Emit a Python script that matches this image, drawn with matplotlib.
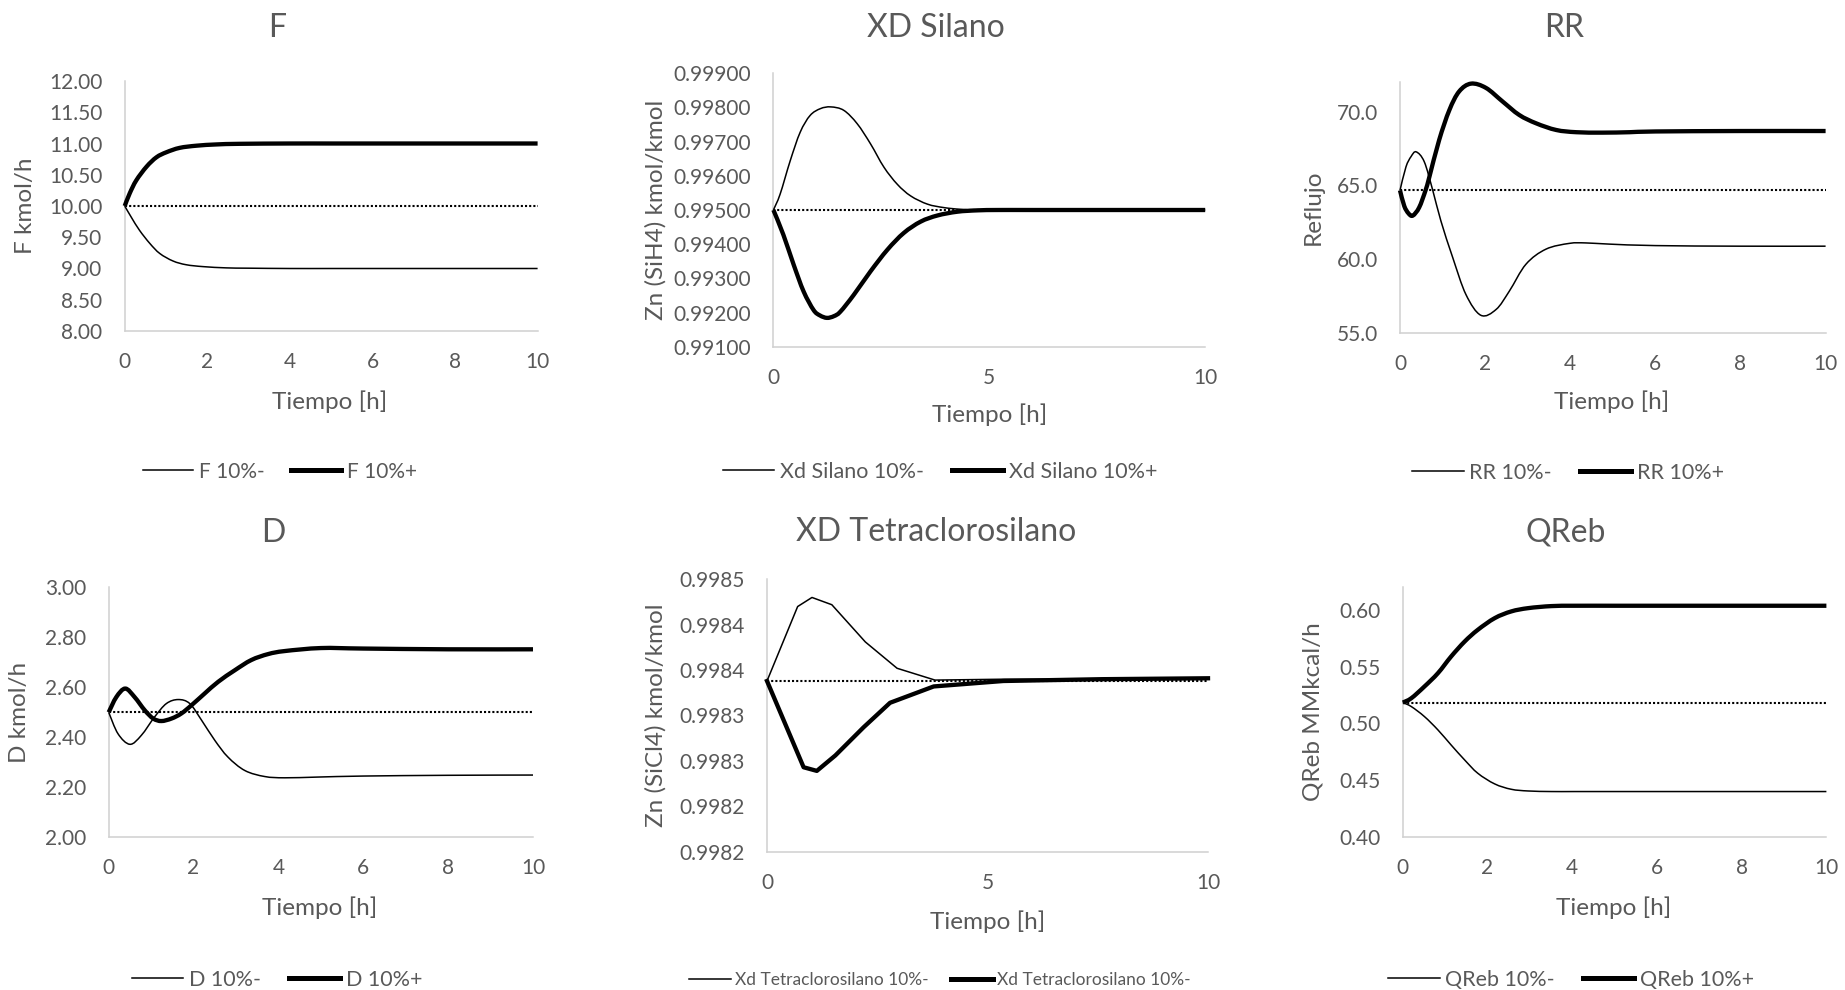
import matplotlib
matplotlib.use("Agg")
import matplotlib.pyplot as plt
from matplotlib.ticker import FixedLocator, FixedFormatter
from matplotlib.path import Path
from matplotlib.patches import PathPatch
from matplotlib.lines import Line2D

plt.rcParams['font.family'] = ['Lato', 'DejaVu Sans']

W, H = 1845, 990
TXT = '#595959'
SPINE = '#d0d0d0'

# ---------------- data ----------------
# F
f_t_minus = [0, 0.16, 0.36, 0.61, 0.85, 1.17, 1.49, 1.9, 2.46, 3.0, 4, 5, 6, 7, 8, 9, 10]
f_minus = [10.0, 9.82, 9.61, 9.40, 9.24, 9.12, 9.06, 9.03, 9.01, 9.005, 9.0, 9.0, 9.0, 9.0, 9.0, 9.0, 9.0]
f_t_plus = [0, 0.12, 0.28, 0.53, 0.77, 1.01, 1.33, 1.74, 2.22, 2.79, 4, 5, 6, 7, 8, 9, 10]
f_plus = [10.0, 10.2, 10.41, 10.63, 10.78, 10.86, 10.93, 10.965, 10.985, 10.995, 11.0, 11.0, 11.0, 11.0, 11.0, 11.0, 11.0]
f_base = [10.0, 10.0]

# XD Silano
sil_t_minus = [0, 0.155, 0.39, 0.62, 0.85, 1.09, 1.33, 1.63, 1.94, 2.25, 2.56, 2.87, 3.18, 3.57, 3.95, 4.34, 4.8, 6, 8, 10]
sil_minus = [0.99500, 0.99546, 0.99644, 0.99727, 0.99776, 0.99796, 0.99801, 0.99791, 0.99752, 0.99693,
             0.99625, 0.99575, 0.99541, 0.99517, 0.99507, 0.99502, 0.99500, 0.99500, 0.99500, 0.99500]
sil_t_plus = [0, 0.23, 0.47, 0.70, 0.93, 1.08, 1.24, 1.40, 1.55, 1.86, 2.25, 2.64, 3.02, 3.41, 3.80, 4.26, 4.73, 5.2, 6, 8, 10]
sil_plus = [0.99500, 0.99428, 0.99340, 0.99262, 0.99208, 0.99192, 0.99185, 0.99190, 0.99203, 0.99252, 0.99321,
            0.99384, 0.99433, 0.99466, 0.99484, 0.99495, 0.99499, 0.99500, 0.99500, 0.99500, 0.99500]
sil_base = [0.995, 0.995]

# RR
rr_t_minus = [0, 0.14, 0.26, 0.38, 0.57, 0.77, 0.96, 1.24, 1.55, 1.9, 2.26, 2.57, 2.96, 3.43, 3.98, 4.37, 4.92, 6, 8, 10]
rr_minus = [64.66, 66.25, 66.95, 67.27, 66.6, 64.66, 62.6, 60.1, 57.6, 56.2, 56.6, 57.84, 59.66, 60.68,
            61.07, 61.1, 61.02, 60.92, 60.88, 60.88]
rr_t_plus = [0, 0.1, 0.2, 0.30, 0.45, 0.6, 0.69, 0.92, 1.16, 1.39, 1.67, 2.02, 2.41, 2.8, 3.2, 3.67, 4.14, 4.76, 5.4, 6, 8, 10]
rr_plus = [64.66, 63.6, 63.1, 62.95, 63.5, 64.66, 65.57, 68.07, 70.1, 71.36, 71.89, 71.6, 70.68, 69.77,
           69.2, 68.75, 68.6, 68.57, 68.6, 68.65, 68.68, 68.68]
rr_base = [64.66, 64.66]

# D
d_t_minus = [0, 0.22, 0.50, 0.77, 1.08, 1.36, 1.64, 1.91, 2.19, 2.50, 2.81, 3.21, 3.68, 4.15, 4.94, 6, 8, 10]
d_minus = [2.50, 2.414, 2.372, 2.408, 2.481, 2.535, 2.551, 2.535, 2.468, 2.388, 2.321, 2.267, 2.243,
           2.238, 2.241, 2.245, 2.248, 2.249]
d_t_plus = [0, 0.18, 0.39, 0.61, 0.85, 1.05, 1.24, 1.48, 1.71, 1.95, 2.26, 2.58, 2.97, 3.36, 3.76, 4.15, 5.0, 6, 8, 10]
d_plus = [2.50, 2.561, 2.595, 2.561, 2.508, 2.475, 2.465, 2.475, 2.495, 2.528, 2.575, 2.622, 2.668,
          2.709, 2.733, 2.745, 2.757, 2.755, 2.752, 2.752]
d_base = [2.5, 2.5]

# XD Tetraclorosilano
xt_t_minus = [0, 0.695, 1.02, 1.47, 2.23, 2.95, 3.81, 5.4, 7.6, 10]
xt_minus = [0.998388, 0.998470, 0.998480, 0.998472, 0.998431, 0.998402, 0.998389, 0.998390, 0.998390, 0.998391]
xt_t_plus = [0, 0.83, 1.13, 1.55, 2.19, 2.79, 3.78, 5.36, 7.6, 10]
xt_plus = [0.998388, 0.998293, 0.998289, 0.998306, 0.998337, 0.998364, 0.998382, 0.998388, 0.998390, 0.998391]
xt_base = [0.998388, 0.998388]

# QReb
q_t = [0, 0.2, 0.51, 0.83, 1.14, 1.46, 1.77, 2.17, 2.56, 2.96, 3.51, 4.06, 5, 6, 8, 10]
q_plus = [0.5183, 0.5221, 0.5324, 0.5442, 0.5588, 0.572, 0.5823, 0.5926, 0.5985, 0.6014, 0.6032,
          0.6035, 0.6035, 0.6035, 0.6035, 0.6035]
q_minus = [0.5183, 0.5148, 0.506, 0.4942, 0.481, 0.4678, 0.4561, 0.4467, 0.442, 0.4405, 0.4400,
           0.4400, 0.4400, 0.4400, 0.4400, 0.4400]
q_base = [0.5183, 0.5183]

base_t = [0, 10]

# ticks
f_yticks = [8.0, 8.5, 9.0, 9.5, 10.0, 10.5, 11.0, 11.5, 12.0]
sil_yticks = [0.991, 0.992, 0.993, 0.994, 0.995, 0.996, 0.997, 0.998, 0.999]
rr_yticks = [55, 60, 65, 70]
d_yticks = [2.0, 2.2, 2.4, 2.6, 2.8, 3.0]
xt_yticks = [0.99820, 0.99825, 0.99830, 0.99835, 0.99840, 0.99845, 0.99850]
xt_ylabels = ['0.9982', '0.9982', '0.9983', '0.9983', '0.9984', '0.9984', '0.9985']
q_yticks = [0.40, 0.45, 0.50, 0.55, 0.60]
xticks_2 = [0, 2, 4, 6, 8, 10]
xticks_5 = [0, 5, 10]

# ---------------- drawing ----------------
fig = plt.figure(figsize=(W / 100, H / 100), dpi=100)
fig.patch.set_facecolor('white')

THIN, THICK = 1.1, 3.1


def px_axes(l, r, t, b):
    return fig.add_axes([l / W, 1 - b / H, (r - l) / W, (b - t) / H])


def smooth_line(ax, xs, ys, lw):
    """Smoothed (spreadsheet style) line: cubic Bezier segments through the points."""
    n = len(xs)
    verts = [(xs[0], ys[0])]
    codes = [Path.MOVETO]
    for i in range(n - 1):
        i0, i2 = max(i - 1, 0), min(i + 2, n - 1)
        c1 = (xs[i] + (xs[i + 1] - xs[i0]) / 6.0, ys[i] + (ys[i + 1] - ys[i0]) / 6.0)
        c2 = (xs[i + 1] - (xs[i2] - xs[i]) / 6.0, ys[i + 1] - (ys[i2] - ys[i]) / 6.0)
        verts += [c1, c2, (xs[i + 1], ys[i + 1])]
        codes += [Path.CURVE4] * 3
    patch = PathPatch(Path(verts, codes), facecolor='none', edgecolor='black', lw=lw,
                      capstyle='butt', joinstyle='round', clip_on=False, zorder=3 + lw)
    ax.add_patch(patch)


def panel(box, title, title_xy, ylab, ylab_x, xlab_xy, leg_xy, leg_fs,
          tm, vm, tp, vp, base, ylim, yticks, ylabels, xticks, names, smooth=True):
    l, r, t, b = box
    ax = px_axes(l, r, t, b)
    ax.plot(base_t, base, color='black', lw=1.5, linestyle=(0, (1, 1)), zorder=2)
    if smooth:
        smooth_line(ax, tm, vm, THIN)
        smooth_line(ax, tp, vp, THICK)
    else:
        ax.plot(tm, vm, color='black', lw=THIN, clip_on=False, zorder=3)
        ax.plot(tp, vp, color='black', lw=THICK, clip_on=False, zorder=4, solid_joinstyle='round')
    ax.set_xlim(0, 10)
    ax.set_ylim(*ylim)
    ax.yaxis.set_major_locator(FixedLocator(yticks))
    ax.yaxis.set_major_formatter(FixedFormatter(ylabels))
    ax.xaxis.set_major_locator(FixedLocator(xticks))
    ax.xaxis.set_major_formatter(FixedFormatter([str(x) for x in xticks]))
    for s in ('top', 'right'):
        ax.spines[s].set_visible(False)
    for s in ('left', 'bottom'):
        ax.spines[s].set_color(SPINE)
        ax.spines[s].set_linewidth(1.1)
    ax.tick_params(axis='both', length=0, labelsize=15, labelcolor=TXT)
    ax.tick_params(axis='y', pad=16)
    ax.tick_params(axis='x', pad=15)
    fig.text(title_xy[0] / W, 1 - title_xy[1] / H, title, ha='center', va='center',
             fontsize=23, color=TXT)
    fig.text(xlab_xy[0] / W, 1 - xlab_xy[1] / H, 'Tiempo [h]', ha='center', va='center',
             fontsize=17.5, color=TXT)
    fig.text(ylab_x / W, 1 - (t + b) / 2 / H, ylab, ha='center', va='center',
             rotation=90, fontsize=17.5, color=TXT)
    handles = [Line2D([], [], color='black', lw=THIN, label=names[0]),
               Line2D([], [], color='black', lw=THICK + 0.5, label=names[1])]
    fig.legend(handles=handles, loc='center', bbox_to_anchor=(leg_xy[0] / W, 1 - leg_xy[1] / H),
               ncol=2, frameon=False, fontsize=leg_fs, handlelength=2.4, handletextpad=0.25,
               columnspacing=1.3, labelcolor=TXT, borderpad=0, borderaxespad=0)
    return ax


fmt2 = lambda v: ['{:.2f}'.format(x) for x in v]

panel((124.7, 537.6, 81, 331), 'F', (277, 28), 'F kmol/h', 25.7, (330, 401.7), (280, 471.7), 15,
      f_t_minus, f_minus, f_t_plus, f_plus, f_base, (8, 12), f_yticks, fmt2(f_yticks), xticks_2,
      ['F 10%-', 'F 10%+'])

panel((773.4, 1205.2, 73, 347), 'XD Silano', (936, 28), 'Zn (SiH4) kmol/kmol', 655.6, (989.7, 415),
      (940, 471.7), 15.5,
      sil_t_minus, sil_minus, sil_t_plus, sil_plus, sil_base, (0.991, 0.999), sil_yticks,
      ['{:.5f}'.format(x) for x in sil_yticks], xticks_5, ['Xd Silano 10%-', 'Xd Silano 10%+'])

panel((1400, 1825.6, 82, 333), 'RR', (1564, 28), 'Reflujo', 1313, (1612, 401.7), (1568, 473), 15.5,
      rr_t_minus, rr_minus, rr_t_plus, rr_plus, rr_base, (55, 72), rr_yticks,
      ['{:.1f}'.format(x) for x in rr_yticks], xticks_2, ['RR 10%-', 'RR 10%+'])

panel((108.7, 533, 587.3, 837.3), 'D', (273, 533), 'D kmol/h', 19.8, (320, 908), (277, 980), 15.5,
      d_t_minus, d_minus, d_t_plus, d_plus, d_base, (2.0, 3.0), d_yticks, fmt2(d_yticks), xticks_2,
      ['D 10%-', 'D 10%+'])

panel((767, 1208, 579.3, 851.7), 'XD Tetraclorosilano', (936, 532), 'Zn (SiCl4) kmol/kmol', 655.6,
      (987.7, 921.7), (940, 980), 12.5,
      xt_t_minus, xt_minus, xt_t_plus, xt_plus, xt_base, (0.99820, 0.99850), xt_yticks, xt_ylabels,
      xticks_5, ['Xd Tetraclorosilano 10%-', 'Xd Tetraclorosilano 10%-'], smooth=False)

panel((1402.8, 1826.4, 587, 837), 'QReb', (1566, 533), 'QReb MMkcal/h', 1313.3, (1614, 908),
      (1571, 980), 15.5,
      q_t, q_minus, q_t, q_plus, q_base, (0.40, 0.62), q_yticks, fmt2(q_yticks), xticks_2,
      ['QReb 10%-', 'QReb 10%+'])

fig.savefig('out.png', dpi=100, facecolor='white')
